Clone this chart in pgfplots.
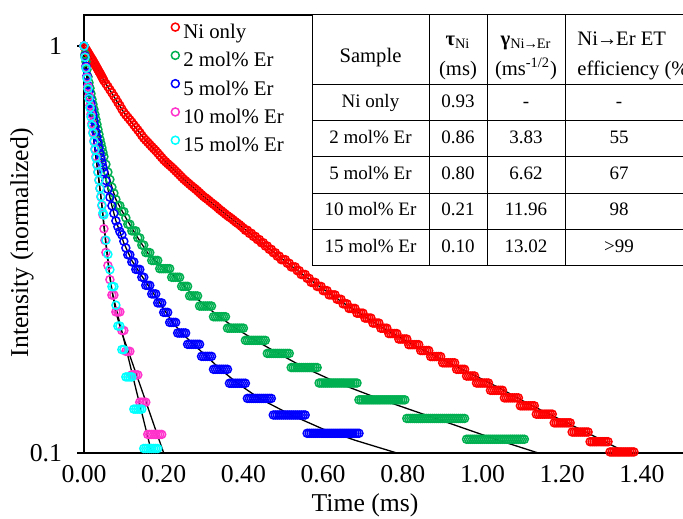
\documentclass[border=0pt]{standalone}
\usepackage{pgfplots}
\pgfplotsset{compat=1.18}
\usepackage{fontspec}
\setmainfont{Liberation Serif}
\definecolor{cred}{RGB}{255,0,0}
\definecolor{cgreen}{RGB}{0,176,80}
\definecolor{cblue}{RGB}{0,0,255}
\definecolor{cmag}{RGB}{255,51,204}
\definecolor{ccyan}{RGB}{0,255,255}
\newcommand{\tkf}{\fontsize{12.85}{14}\selectfont}
\newcommand{\tbf}{\fontsize{9.5}{11}\selectfont}
\newcommand{\thf}{\fontsize{10.3}{12}\selectfont}
\newcommand{\arr}{\kern-0.6pt→\kern-0.6pt}
\begin{document}
\begin{tikzpicture}
\useasboundingbox (-42pt,-32.5pt) rectangle (299.5pt,226.5pt);
\begin{axis}[
  scale only axis, width=302.86pt, height=219pt,
  xmin=0, xmax=1.52, ymin=0.1, ymax=1.192, ymode=log,
  clip=false,
  axis line style={line width=0.65pt},
  xtick={0,0.2,0.4,0.6,0.8,1.0,1.2,1.4},
  xticklabels={0.00,0.20,0.40,0.60,0.80,1.00,1.20,1.40},
  xtick style={draw=none},
  ytick={0.1,1}, yticklabels={0.1,1},
  yminorticks=false,
  ytick style={line width=0.65pt, black},
  tick align=outside, major tick length=3.5pt,
  xtick pos=bottom, ytick pos=left,
  tick label style={font=\tkf},
  xticklabel style={yshift=1pt},
  yticklabel style={xshift=-4pt},
  xlabel={Time (ms)}, ylabel={Intensity (normalized)},
  every axis x label/.style={at={(axis description cs:0.464,-0.1187)}, anchor=center, font=\tkf},
  every axis y label/.style={at={(axis description cs:-0.1024,0.48)}, anchor=center, rotate=90, font=\tkf},
  legend style={at={(axis description cs:0.1435,0.9824)}, anchor=north west, draw=none, fill=none,
    font=\fontsize{10.4}{12}\selectfont, row sep=4.34pt, column sep=2pt, inner sep=0pt,
    nodes={inner sep=0pt, text height=7.2pt, text depth=2pt}},
  legend cell align=left,
  legend image code/.code={\draw[#1] plot coordinates {(0pt,3.2pt)};},
  fitline/.style={black, line width=0.65pt, forget plot},
  dat/.style={only marks, mark=o, mark size=2pt, mark options={line width=0.75pt, #1}, color=#1},
]
% ---------------- fit lines ----------------
\addplot[fitline] coordinates {(0,1)(0.025,0.91)(0.05,0.822)(0.075,0.752)(0.1,0.687)(0.125,0.638)(0.15,0.594)(0.2,0.525)(0.25,0.471)(0.3,0.427)(0.35,0.39)(0.4,0.357)(0.45,0.326)(0.5,0.2985)(0.55,0.274)(0.6,0.253)(0.65,0.234)(0.7,0.218)(0.75,0.203)(0.8,0.1905)(0.85,0.1795)(0.9,0.1694)(0.95,0.1603)(1.0,0.1517)(1.05,0.1432)(1.1,0.1345)(1.15,0.127)(1.2,0.1202)(1.25,0.1137)(1.3,0.1075)(1.35,0.1015)(1.365,0.1)};
\addplot[fitline] coordinates {(0,1)(0.01,0.84)(0.02,0.74)(0.03,0.66)(0.04,0.59)(0.05,0.535)(0.06,0.49)(0.07,0.45)(0.08,0.42)(0.1,0.386)(0.12,0.357)(0.14,0.332)(0.16,0.31)(0.18,0.296)(0.2,0.285)(0.225,0.2725)(0.25,0.258)(0.275,0.2435)(0.305,0.2297)(0.34,0.2162)(0.38,0.2027)(0.43,0.1892)(0.4875,0.1757)(0.5525,0.1622)(0.6375,0.1486)(0.7475,0.1351)(0.8825,0.1216)(1.0325,0.1081)(1.14,0.1)};
\addplot[fitline] coordinates {(0,1)(0.01,0.80)(0.02,0.70)(0.03,0.615)(0.04,0.545)(0.05,0.49)(0.06,0.445)(0.07,0.405)(0.08,0.372)(0.09,0.35)(0.1,0.328)(0.12,0.297)(0.14,0.277)(0.16,0.259)(0.18,0.242)(0.2,0.226)(0.2225,0.2094)(0.245,0.1972)(0.275,0.185)(0.3075,0.1728)(0.3425,0.1606)(0.385,0.1484)(0.44,0.1362)(0.52,0.124)(0.60,0.1145)(0.68,0.1075)(0.785,0.1)};
\addplot[fitline] coordinates {(0,1)(0.005,0.885)(0.01,0.795)(0.015,0.715)(0.02,0.645)(0.025,0.585)(0.03,0.535)(0.035,0.49)(0.04,0.447)(0.045,0.405)(0.05,0.365)(0.055,0.33)(0.06,0.3)(0.065,0.272)(0.07,0.252)(0.075,0.236)(0.08,0.222)(0.09,0.205)(0.1,0.191)(0.12,0.168)(0.14,0.1476)(0.16,0.1297)(0.18,0.1138)(0.20,0.1)};
\addplot[fitline] coordinates {(0,1)(0.005,0.88)(0.01,0.785)(0.015,0.705)(0.02,0.638)(0.025,0.582)(0.03,0.531)(0.035,0.487)(0.04,0.445)(0.045,0.405)(0.05,0.36)(0.055,0.325)(0.06,0.295)(0.065,0.27)(0.07,0.25)(0.08,0.228)(0.09,0.208)(0.11,0.1735)(0.13,0.144)(0.15,0.12)(0.17,0.1)};
% ---------------- data ----------------
\addplot[dat=cred] coordinates {(0,1)(0.0025,0.991)(0.005,0.982)(0.0075,0.973)(0.01,0.964)(0.0125,0.955)(0.015,0.946)(0.0175,0.937)(0.02,0.929)(0.0225,0.920)(0.025,0.911)(0.0275,0.902)(0.03,0.893)(0.0325,0.884)(0.035,0.875)(0.0375,0.866)(0.04,0.858)(0.0425,0.849)(0.045,0.840)(0.0475,0.831)(0.05,0.822)(0.055,0.808)(0.06,0.795)(0.065,0.781)(0.07,0.768)(0.075,0.754)(0.08,0.741)(0.085,0.727)(0.09,0.714)(0.095,0.700)(0.10,0.687)(0.105,0.677)(0.11,0.668)(0.115,0.659)(0.12,0.650)(0.125,0.640)(0.13,0.631)(0.135,0.622)(0.14,0.613)(0.145,0.603)(0.15,0.594)
(0.155,0.587)(0.16,0.580)(0.165,0.573)(0.17,0.566)(0.175,0.5595)(0.18,0.553)(0.185,0.546)(0.19,0.539)(0.195,0.532)(0.20,0.525)(0.205,0.5195)(0.21,0.514)(0.215,0.509)(0.22,0.504)(0.225,0.4985)(0.23,0.493)(0.235,0.4875)(0.24,0.482)(0.245,0.4765)(0.25,0.471)(0.255,0.4665)(0.26,0.462)(0.265,0.4575)(0.27,0.453)(0.275,0.449)(0.28,0.445)(0.285,0.4405)(0.29,0.436)(0.295,0.4315)(0.30,0.427)(0.305,0.4235)(0.31,0.420)(0.315,0.416)(0.32,0.412)(0.325,0.4085)(0.33,0.405)(0.335,0.401)(0.34,0.397)(0.345,0.3935)(0.35,0.390)(0.355,0.3865)(0.36,0.383)(0.365,0.38)(0.37,0.377)(0.375,0.3735)(0.38,0.370)(0.385,0.367)(0.39,0.364)(0.395,0.3605)(0.40,0.357)
(0.405,0.3526)(0.41,0.3526)(0.415,0.3466)(0.42,0.3466)(0.425,0.3406)(0.43,0.3406)(0.435,0.3346)(0.44,0.3346)(0.445,0.3286)(0.45,0.3286)(0.455,0.3226)(0.46,0.3226)(0.465,0.3166)(0.47,0.3166)(0.475,0.3106)(0.48,0.3106)(0.485,0.3046)(0.49,0.3046)(0.495,0.2986)(0.50,0.2986)(0.505,0.2986)(0.51,0.2926)(0.515,0.2926)(0.52,0.2866)(0.525,0.2866)(0.53,0.2866)(0.535,0.2806)(0.54,0.2806)(0.545,0.2746)(0.55,0.2746)(0.555,0.2746)(0.56,0.2686)(0.565,0.2686)(0.57,0.2626)(0.575,0.2626)(0.58,0.2626)(0.585,0.2566)(0.59,0.2566)(0.595,0.2566)(0.60,0.2506)(0.605,0.2506)(0.61,0.2506)(0.615,0.2446)(0.62,0.2446)(0.625,0.2446)(0.63,0.2446)(0.635,0.2386)(0.64,0.2386)(0.645,0.2386)(0.65,0.2326)(0.655,0.2326)(0.66,0.2326)(0.665,0.2266)(0.67,0.2266)(0.675,0.2266)(0.68,0.2266)(0.685,0.2206)(0.69,0.2206)(0.695,0.2206)(0.70,0.2206)(0.705,0.2146)(0.71,0.2146)(0.715,0.2146)(0.72,0.2146)(0.725,0.2086)(0.73,0.2086)(0.735,0.2086)(0.74,0.2086)(0.745,0.2026)(0.75,0.2026)(0.755,0.2026)(0.76,0.2026)(0.765,0.1966)(0.77,0.1966)(0.775,0.1966)(0.78,0.1966)(0.785,0.1966)(0.79,0.1906)(0.795,0.1906)(0.80,0.1906)(0.805,0.1906)(0.81,0.1906)(0.815,0.1846)(0.82,0.1846)(0.825,0.1846)(0.83,0.1846)(0.835,0.1846)(0.84,0.1846)(0.845,0.1786)(0.85,0.1786)(0.855,0.1786)(0.86,0.1786)(0.865,0.1786)(0.87,0.1726)(0.875,0.1726)(0.88,0.1726)(0.885,0.1726)(0.89,0.1726)(0.895,0.1726)(0.90,0.1666)(0.905,0.1666)(0.91,0.1666)(0.915,0.1666)(0.92,0.1666)(0.925,0.1666)(0.93,0.1666)
(0.935,0.1606)(0.94,0.1606)(0.945,0.1606)(0.95,0.1606)(0.955,0.1606)(0.96,0.1546)(0.965,0.1546)(0.97,0.1546)(0.975,0.1546)(0.98,0.1546)
(0.985,0.1486)(0.99,0.1486)(0.995,0.1486)(1.0,0.1486)(1.005,0.1486)(1.01,0.1486)(1.015,0.1486)
(1.02,0.1426)(1.025,0.1426)(1.03,0.1426)(1.035,0.1426)(1.04,0.1426)(1.045,0.1426)(1.05,0.1426)
(1.055,0.1366)(1.06,0.1366)(1.065,0.1366)(1.07,0.1366)(1.075,0.1366)(1.08,0.1366)(1.085,0.1366)(1.09,0.1366)
(1.095,0.1306)(1.10,0.1306)(1.105,0.1306)(1.11,0.1306)(1.115,0.1306)(1.12,0.1306)(1.125,0.1306)(1.13,0.1306)
(1.135,0.1246)(1.14,0.1246)(1.145,0.1246)(1.15,0.1246)(1.155,0.1246)(1.16,0.1246)(1.165,0.1246)(1.17,0.1246)(1.175,0.1246)
(1.18,0.1186)(1.185,0.1186)(1.19,0.1186)(1.195,0.1186)(1.20,0.1186)(1.205,0.1186)(1.21,0.1186)(1.215,0.1186)(1.22,0.1186)
(1.225,0.1126)(1.23,0.1126)(1.235,0.1126)(1.24,0.1126)(1.245,0.1126)(1.25,0.1126)(1.255,0.1126)(1.26,0.1126)(1.265,0.1126)
(1.27,0.1066)(1.275,0.1066)(1.28,0.1066)(1.285,0.1066)(1.29,0.1066)(1.295,0.1066)(1.30,0.1066)(1.305,0.1066)(1.31,0.1066)(1.315,0.1066)
(1.32,0.1006)(1.325,0.1006)(1.33,0.1006)(1.335,0.1006)(1.34,0.1006)(1.345,0.1006)(1.35,0.1006)(1.355,0.1006)(1.36,0.1006)(1.365,0.1006)(1.37,0.1006)(1.375,0.1006)(1.38,0.1006)};
\addlegendentry{Ni only}
\addplot[dat=cgreen] coordinates {(0,1)(0.0025,0.955)(0.005,0.915)(0.0075,0.876)(0.01,0.84)(0.0125,0.813)(0.015,0.788)(0.0175,0.764)(0.02,0.74)(0.0225,0.719)(0.025,0.699)(0.0275,0.679)(0.03,0.66)(0.0325,0.642)(0.035,0.624)(0.0375,0.607)(0.04,0.59)(0.0425,0.576)(0.045,0.562)(0.0475,0.548)(0.05,0.535)(0.055,0.512)(0.06,0.49)(0.065,0.47)(0.07,0.45)(0.075,0.435)(0.08,0.42)(0.085,0.4054)(0.09,0.4054)(0.095,0.3919)(0.10,0.3919)(0.105,0.3784)(0.11,0.3649)(0.115,0.3649)(0.12,0.3514)(0.125,0.3514)(0.13,0.3514)(0.135,0.3378)(0.14,0.3378)(0.145,0.3243)(0.15,0.3243)(0.155,0.3108)(0.16,0.3108)(0.165,0.3108)(0.17,0.2973)(0.175,0.2973)(0.18,0.2973)(0.185,0.2973)(0.19,0.2838)(0.195,0.2838)(0.2,0.2838)(0.205,0.2838)(0.21,0.2838)(0.215,0.2838)(0.22,0.2703)(0.225,0.2703)(0.23,0.2703)(0.235,0.2703)(0.24,0.2703)(0.245,0.2568)(0.25,0.2568)(0.255,0.2568)(0.26,0.2568)(0.265,0.2432)(0.27,0.2432)(0.275,0.2432)(0.28,0.2432)(0.285,0.2432)
(0.29,0.2297)(0.295,0.2297)(0.30,0.2297)(0.305,0.2297)(0.31,0.2297)(0.315,0.2297)(0.32,0.2297)
(0.325,0.2162)(0.33,0.2162)(0.335,0.2162)(0.34,0.2162)(0.345,0.2162)(0.35,0.2162)(0.355,0.2162)
(0.36,0.2027)(0.365,0.2027)(0.37,0.2027)(0.375,0.2027)(0.38,0.2027)(0.385,0.2027)(0.39,0.2027)(0.395,0.2027)(0.40,0.2027)
(0.405,0.1892)(0.41,0.1892)(0.415,0.1892)(0.42,0.1892)(0.425,0.1892)(0.43,0.1892)(0.435,0.1892)(0.44,0.1892)(0.445,0.1892)(0.45,0.1892)(0.455,0.1892)
(0.46,0.1757)(0.465,0.1757)(0.47,0.1757)(0.475,0.1757)(0.48,0.1757)(0.485,0.1757)(0.49,0.1757)(0.495,0.1757)(0.50,0.1757)(0.505,0.1757)(0.51,0.1757)(0.515,0.1757)
(0.52,0.1622)(0.525,0.1622)(0.53,0.1622)(0.535,0.1622)(0.54,0.1622)(0.545,0.1622)(0.55,0.1622)(0.555,0.1622)(0.56,0.1622)(0.565,0.1622)(0.57,0.1622)(0.575,0.1622)(0.58,0.1622)(0.585,0.1622)
(0.59,0.1486)(0.595,0.1486)(0.60,0.1486)(0.605,0.1486)(0.61,0.1486)(0.615,0.1486)(0.62,0.1486)(0.625,0.1486)(0.63,0.1486)(0.635,0.1486)(0.64,0.1486)(0.645,0.1486)(0.65,0.1486)(0.655,0.1486)(0.66,0.1486)(0.665,0.1486)(0.67,0.1486)(0.675,0.1486)(0.68,0.1486)(0.685,0.1486)
(0.69,0.1351)(0.695,0.1351)(0.70,0.1351)(0.705,0.1351)(0.71,0.1351)(0.715,0.1351)(0.72,0.1351)(0.725,0.1351)(0.73,0.1351)(0.735,0.1351)(0.74,0.1351)(0.745,0.1351)(0.75,0.1351)(0.755,0.1351)(0.76,0.1351)(0.765,0.1351)(0.77,0.1351)(0.775,0.1351)(0.78,0.1351)(0.785,0.1351)(0.79,0.1351)(0.795,0.1351)(0.80,0.1351)(0.805,0.1351)
(0.81,0.1216)(0.815,0.1216)(0.82,0.1216)(0.825,0.1216)(0.83,0.1216)(0.835,0.1216)(0.84,0.1216)(0.845,0.1216)(0.85,0.1216)(0.855,0.1216)(0.86,0.1216)(0.865,0.1216)(0.87,0.1216)(0.875,0.1216)(0.88,0.1216)(0.885,0.1216)(0.89,0.1216)(0.895,0.1216)(0.90,0.1216)(0.905,0.1216)(0.91,0.1216)(0.915,0.1216)(0.92,0.1216)(0.925,0.1216)(0.93,0.1216)(0.935,0.1216)(0.94,0.1216)(0.945,0.1216)(0.95,0.1216)(0.955,0.1216)
(0.96,0.1081)(0.965,0.1081)(0.97,0.1081)(0.975,0.1081)(0.98,0.1081)(0.985,0.1081)(0.99,0.1081)(0.995,0.1081)(1.0,0.1081)(1.005,0.1081)(1.01,0.1081)(1.015,0.1081)(1.02,0.1081)(1.025,0.1081)(1.03,0.1081)(1.035,0.1081)(1.04,0.1081)(1.045,0.1081)(1.05,0.1081)(1.055,0.1081)(1.06,0.1081)(1.065,0.1081)(1.07,0.1081)(1.075,0.1081)(1.08,0.1081)(1.085,0.1081)(1.09,0.1081)(1.095,0.1081)(1.10,0.1081)(1.105,0.1081)};
\addlegendentry{2 mol\% Er}
\addplot[dat=cblue] coordinates {(0,1)(0.0025,0.945)(0.005,0.893)(0.0075,0.845)(0.01,0.80)(0.0125,0.772)(0.015,0.746)(0.0175,0.722)(0.02,0.70)(0.0225,0.678)(0.025,0.656)(0.0275,0.635)(0.03,0.615)(0.0325,0.597)(0.035,0.579)(0.0375,0.562)(0.04,0.545)(0.0425,0.531)(0.045,0.517)(0.0475,0.503)(0.05,0.49)(0.055,0.467)(0.06,0.445)(0.065,0.425)(0.07,0.405)(0.075,0.388)(0.08,0.372)(0.085,0.36)(0.09,0.35)(0.095,0.3436)(0.10,0.3314)(0.105,0.3192)(0.11,0.307)(0.115,0.307)(0.12,0.2948)(0.125,0.2948)(0.13,0.2826)(0.135,0.2826)(0.14,0.2826)(0.145,0.2704)(0.15,0.2704)(0.155,0.2582)(0.16,0.2582)(0.165,0.2582)(0.17,0.246)(0.175,0.246)(0.18,0.246)(0.185,0.2338)(0.19,0.2338)(0.195,0.2338)(0.2,0.2216)(0.205,0.2216)(0.21,0.2216)(0.215,0.2094)(0.22,0.2094)(0.225,0.2094)(0.23,0.2094)
(0.235,0.1972)(0.24,0.1972)(0.245,0.1972)(0.25,0.1972)(0.255,0.1972)
(0.26,0.185)(0.265,0.185)(0.27,0.185)(0.275,0.185)(0.28,0.185)(0.285,0.185)(0.29,0.185)
(0.295,0.1728)(0.30,0.1728)(0.305,0.1728)(0.31,0.1728)(0.315,0.1728)(0.32,0.1728)
(0.325,0.1606)(0.33,0.1606)(0.335,0.1606)(0.34,0.1606)(0.345,0.1606)(0.35,0.1606)(0.355,0.1606)(0.36,0.1606)
(0.365,0.1484)(0.37,0.1484)(0.375,0.1484)(0.38,0.1484)(0.385,0.1484)(0.39,0.1484)(0.395,0.1484)(0.40,0.1484)(0.405,0.1484)
(0.41,0.1362)(0.415,0.1362)(0.42,0.1362)(0.425,0.1362)(0.43,0.1362)(0.435,0.1362)(0.44,0.1362)(0.445,0.1362)(0.45,0.1362)(0.455,0.1362)(0.46,0.1362)(0.465,0.1362)(0.47,0.1362)
(0.475,0.124)(0.48,0.124)(0.485,0.124)(0.49,0.124)(0.495,0.124)(0.50,0.124)(0.505,0.124)(0.51,0.124)(0.515,0.124)(0.52,0.124)(0.525,0.124)(0.53,0.124)(0.535,0.124)(0.54,0.124)(0.545,0.124)(0.55,0.124)(0.555,0.124)
(0.56,0.1118)(0.565,0.1118)(0.57,0.1118)(0.575,0.1118)(0.58,0.1118)(0.585,0.1118)(0.59,0.1118)(0.595,0.1118)(0.60,0.1118)(0.605,0.1118)(0.61,0.1118)(0.615,0.1118)(0.62,0.1118)(0.625,0.1118)(0.63,0.1118)(0.635,0.1118)(0.64,0.1118)(0.645,0.1118)(0.65,0.1118)(0.655,0.1118)(0.66,0.1118)(0.665,0.1118)(0.67,0.1118)(0.675,0.1118)(0.68,0.1118)(0.685,0.1118)(0.69,0.1118)};
\addlegendentry{5 mol\% Er}
\addplot[dat=cmag] coordinates {(0,1)(0.0025,0.94)(0.005,0.885)(0.0075,0.838)(0.01,0.795)(0.0125,0.754)(0.015,0.715)(0.0175,0.68)(0.02,0.645)(0.0225,0.614)(0.025,0.585)(0.0275,0.559)(0.03,0.535)(0.0325,0.512)(0.035,0.49)(0.0375,0.468)(0.04,0.447)(0.0425,0.426)(0.045,0.405)(0.0475,0.385)(0.05,0.3556)(0.0525,0.3333)(0.055,0.3111)(0.06,0.2889)(0.065,0.2667)(0.07,0.2444)(0.075,0.2444)(0.08,0.2222)(0.085,0.2222)(0.09,0.2222)(0.095,0.2)(0.1,0.2)(0.105,0.1778)(0.11,0.1778)(0.115,0.1778)(0.12,0.1556)(0.125,0.1556)(0.13,0.1556)(0.135,0.1556)(0.14,0.1333)(0.145,0.1333)(0.15,0.1333)(0.155,0.1333)(0.16,0.1111)(0.165,0.1111)(0.17,0.1111)(0.175,0.1111)(0.18,0.1111)(0.185,0.1111)(0.19,0.1111)(0.195,0.1111)};
\addlegendentry{10 mol\% Er}
\addplot[dat=ccyan] coordinates {(0,1)(0.0025,0.938)(0.005,0.881)(0.0075,0.832)(0.01,0.785)(0.0125,0.743)(0.015,0.705)(0.0175,0.67)(0.02,0.638)(0.0225,0.61)(0.025,0.582)(0.0275,0.556)(0.03,0.531)(0.0325,0.51)(0.035,0.49)(0.0375,0.468)(0.04,0.447)(0.0425,0.427)(0.045,0.407)(0.0475,0.389)(0.05,0.3846)(0.055,0.3333)(0.06,0.3077)(0.065,0.2821)(0.07,0.2564)(0.075,0.2564)(0.08,0.2308)(0.085,0.2051)(0.09,0.2051)(0.095,0.1795)(0.1,0.1795)(0.105,0.1538)(0.11,0.1538)(0.115,0.1538)(0.12,0.1538)(0.125,0.1282)(0.13,0.1282)(0.135,0.1282)(0.14,0.1282)(0.145,0.1282)(0.15,0.1026)(0.155,0.1026)(0.16,0.1026)(0.165,0.1026)(0.17,0.1026)(0.175,0.1026)(0.18,0.1026)(0.185,0.1026)};
\addlegendentry{15 mol\% Er}
\end{axis}
% ---------------- table ----------------
\begin{scope}[x=1pt,y=1pt]
\fill[white] (114,93.5) rectangle (310,219);
\foreach \yy in {219,184.25,166.25,148,129.85,111.85,93.5} {\draw[line width=0.5pt] (114,\yy) -- (310,\yy);}
\foreach \xx in {114,172.5,201.5,240.5} {\draw[line width=0.5pt] (\xx,93.5) -- (\xx,219);}
\begin{scope}[every node/.style={font=\tbf, inner sep=0pt, text height=6.6pt, text depth=1.9pt, anchor=center}]
\node[font=\thf] at (143.25,197.6) {Sample};
\node[font=\thf] at (187,206) {\textbf{τ}\textsubscript{Ni}};
\node[font=\thf] at (187,191.3) {(ms)};
\node[font=\thf] at (221,206) {\textbf{γ}\textsubscript{Ni\arr Er}};
\node[font=\thf] at (221,191.3) {(ms\textsuperscript{-1/2})};
\node[font=\thf, anchor=west] at (246.5,206) {Ni\arr Er ET};
\node[font=\thf, anchor=west] at (246.5,191.3) {efficiency (\%)};
\node at (143.25,175.25) {Ni only};   \node at (187,175.25) {0.93}; \node at (221,175.25) {-};     \node at (267.5,175.25) {-};
\node at (143.25,157.1) {2 mol\% Er};  \node at (187,157.1) {0.86};  \node at (221,157.1) {3.83};   \node at (267.5,157.1) {55};
\node at (143.25,138.9) {5 mol\% Er};  \node at (187,138.9) {0.80};  \node at (221,138.9) {6.62};   \node at (267.5,138.9) {67};
\node at (143.25,120.85) {10 mol\% Er}; \node at (187,120.85) {0.21}; \node at (221,120.85) {11.96}; \node at (267.5,120.85) {98};
\node at (143.25,102.7) {15 mol\% Er}; \node at (187,102.7) {0.10};  \node at (221,102.7) {13.02};  \node at (267.5,102.7) {>99};
\end{scope}
\end{scope}
\end{tikzpicture}
\end{document}
